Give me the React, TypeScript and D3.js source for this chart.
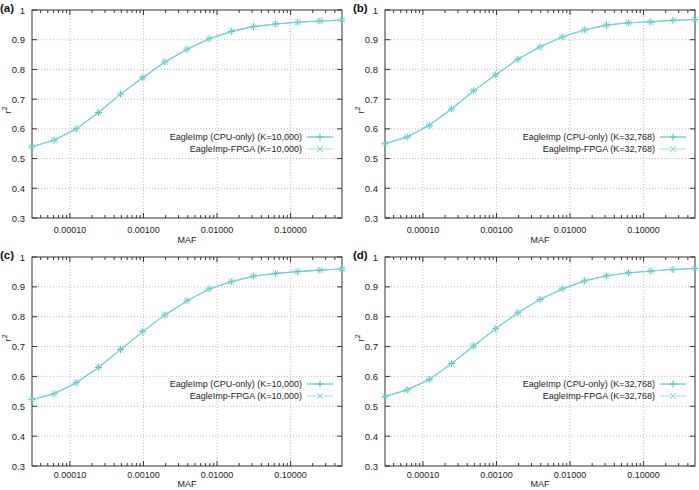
import * as d3 from "d3"

// MAF bins: 2^-15 ... 2^-1
const mafBins = d3.range(-15, 0).map((e) => Math.pow(2, e))

const cpuA = [0.54, 0.562, 0.6, 0.655, 0.717, 0.772, 0.825, 0.868, 0.903, 0.928, 0.944, 0.953, 0.959, 0.963, 0.966]
const fpgaA = [0.54, 0.562, 0.6, 0.655, 0.717, 0.772, 0.825, 0.868, 0.903, 0.928, 0.944, 0.953, 0.959, 0.963, 0.966]
const cpuB = [0.55, 0.573, 0.612, 0.667, 0.728, 0.782, 0.834, 0.876, 0.909, 0.933, 0.949, 0.957, 0.96, 0.965, 0.968]
const fpgaB = [0.55, 0.573, 0.612, 0.667, 0.728, 0.782, 0.834, 0.876, 0.909, 0.933, 0.949, 0.957, 0.96, 0.965, 0.968]
const cpuC = [0.523, 0.542, 0.579, 0.63, 0.69, 0.75, 0.806, 0.853, 0.893, 0.917, 0.936, 0.945, 0.951, 0.956, 0.96]
const fpgaC = [0.523, 0.542, 0.579, 0.63, 0.69, 0.75, 0.806, 0.853, 0.893, 0.917, 0.936, 0.945, 0.951, 0.956, 0.96]
const cpuD = [0.533, 0.555, 0.59, 0.643, 0.702, 0.76, 0.813, 0.858, 0.893, 0.92, 0.937, 0.947, 0.953, 0.958, 0.962]
const fpgaD = [0.533, 0.555, 0.59, 0.643, 0.702, 0.76, 0.813, 0.858, 0.893, 0.92, 0.937, 0.947, 0.953, 0.958, 0.962]

const yTicks = [0.3, 0.4, 0.5, 0.6, 0.7, 0.8, 0.9, 1]
const xTicks = [0.0001, 0.001, 0.01, 0.1]

const cpuColor = "#4dbfc4"
const fpgaColor = "#86d8d8"
const font = "'Liberation Sans', Arial, sans-serif"

interface PanelProps {
  tag: string
  k: string
  cpu: number[]
  fpga: number[]
  x0: number
  x1: number
  y0: number
  y1: number
  labelY: number
  tickGap: number
  titleGap: number
}

function Panel({ tag, k, cpu, fpga, x0, x1, y0, y1, labelY, tickGap, titleGap }: PanelProps) {
  const x = d3.scaleLog().domain([Math.pow(2, -15), 0.5]).range([x0, x1])
  const y = d3.scaleLinear().domain([0.3, 1]).range([y1, y0])

  // minor ticks 2..9 per decade, kept within the domain
  const minor: number[] = []
  for (let e = -5; e <= -1; e++) {
    for (let m = 2; m <= 9; m++) {
      const v = m * Math.pow(10, e)
      if (v > Math.pow(2, -15) && v < 0.5) minor.push(v)
    }
  }

  const line = d3
    .line<number>()
    .x((_, i) => x(mafBins[i]))
    .y((d) => y(d))

  const legY1 = y0 + 127
  const legY2 = y0 + 139
  const legTextX = x0 + 270
  const legL = x0 + 275
  const legR = x0 + 301

  const plus = (cx: number, cy: number, c: string, key: string) => (
    <path key={key} d={`M${cx - 3.5},${cy}H${cx + 3.5}M${cx},${cy - 3.5}V${cy + 3.5}`} stroke={c} strokeWidth={1} />
  )
  const cross = (cx: number, cy: number, c: string, key: string) => (
    <path key={key} d={`M${cx - 3},${cy - 3}L${cx + 3},${cy + 3}M${cx - 3},${cy + 3}L${cx + 3},${cy - 3}`} stroke={c} strokeWidth={1} />
  )

  return (
    <g fontFamily={font}>
      {/* grid */}
      {yTicks.slice(1, -1).map((t) => (
        <line key={"gy" + t} x1={x0} x2={x1} y1={y(t)} y2={y(t)} stroke="#b0b0b0" strokeWidth={0.8} strokeDasharray="1,2" />
      ))}
      {xTicks.map((t) => (
        <line key={"gx" + t} x1={x(t)} x2={x(t)} y1={y0} y2={y1} stroke="#b0b0b0" strokeWidth={0.8} strokeDasharray="1,2" />
      ))}

      {/* ticks */}
      {yTicks.map((t) => (
        <g key={"ty" + t}>
          <line x1={x0} x2={x0 + 5} y1={y(t)} y2={y(t)} stroke="#333" />
          <line x1={x1} x2={x1 - 5} y1={y(t)} y2={y(t)} stroke="#333" />
          <text x={x0 - 7} y={y(t) + 3.5} fontSize={9.5} textAnchor="end" fill="#222">
            {t === 1 ? "1" : t.toFixed(1)}
          </text>
        </g>
      ))}
      {xTicks.map((t) => (
        <g key={"tx" + t}>
          <line x1={x(t)} x2={x(t)} y1={y1} y2={y1 - 5} stroke="#333" />
          <line x1={x(t)} x2={x(t)} y1={y0} y2={y0 + 5} stroke="#333" />
          <text x={x(t)} y={y1 + tickGap} fontSize={9} textAnchor="middle" fill="#222">
            {d3.format(".5f")(t)}
          </text>
        </g>
      ))}
      {minor.map((t) => (
        <g key={"mx" + t}>
          <line x1={x(t)} x2={x(t)} y1={y1} y2={y1 - 3} stroke="#333" />
          <line x1={x(t)} x2={x(t)} y1={y0} y2={y0 + 3} stroke="#333" />
        </g>
      ))}

      <rect x={x0} y={y0} width={x1 - x0} height={y1 - y0} fill="none" stroke="#333" strokeWidth={1} />

      {/* axis titles */}
      <text x={(x0 + x1) / 2} y={y1 + titleGap} fontSize={9} textAnchor="middle" fill="#222">
        MAF
      </text>
      <text transform={`translate(${x0 - 21},${labelY}) rotate(-90)`} fontSize={9.5} textAnchor="middle" fill="#222">
        r<tspan dy={-4} fontSize={7}>2</tspan>
      </text>
      <text x={x0 - 32} y={y0 + 2} fontSize={11.5} fontWeight="bold" fill="#111">
        {tag}
      </text>

      {/* series */}
      <path d={line(cpu) || ""} fill="none" stroke={cpuColor} strokeWidth={1.1} />
      <path d={line(fpga) || ""} fill="none" stroke={fpgaColor} strokeWidth={0.8} />
      {cpu.map((v, i) => plus(x(mafBins[i]), y(v), cpuColor, "p" + i))}
      {fpga.map((v, i) => cross(x(mafBins[i]), y(v), fpgaColor, "c" + i))}

      {/* legend */}
      <text x={legTextX} y={legY1 + 3} fontSize={9} textAnchor="end" fill="#222">
        EagleImp (CPU-only) (K={k})
      </text>
      <line x1={legL} x2={legR} y1={legY1} y2={legY1} stroke={cpuColor} strokeWidth={1.1} />
      {plus((legL + legR) / 2, legY1, cpuColor, "lp")}
      <text x={legTextX} y={legY2 + 3} fontSize={9} textAnchor="end" fill="#222">
        EagleImp-FPGA (K={k})
      </text>
      <line x1={legL} x2={legR} y1={legY2} y2={legY2} stroke={fpgaColor} strokeWidth={0.8} />
      {cross((legL + legR) / 2, legY2, fpgaColor, "lc")}
    </g>
  )
}

export default function App() {
  return (
    <svg width={699} height={490} style={{ position: "absolute", left: 0, top: 0, background: "#fff" }}>
      <rect width={699} height={490} fill="#fff" />
      <Panel tag="(a)" k="10,000" cpu={cpuA} fpga={fpgaA} x0={32} x1={342} y0={10} y1={218} labelY={110} tickGap={15} titleGap={25} />
      <Panel tag="(b)" k="32,768" cpu={cpuB} fpga={fpgaB} x0={385} x1={695} y0={10} y1={218} labelY={110} tickGap={15} titleGap={25} />
      <Panel tag="(c)" k="10,000" cpu={cpuC} fpga={fpgaC} x0={32} x1={342} y0={257} y1={466} labelY={338} tickGap={12} titleGap={21} />
      <Panel tag="(d)" k="32,768" cpu={cpuD} fpga={fpgaD} x0={385} x1={695} y0={257} y1={466} labelY={338} tickGap={12} titleGap={21} />
    </svg>
  )
}
